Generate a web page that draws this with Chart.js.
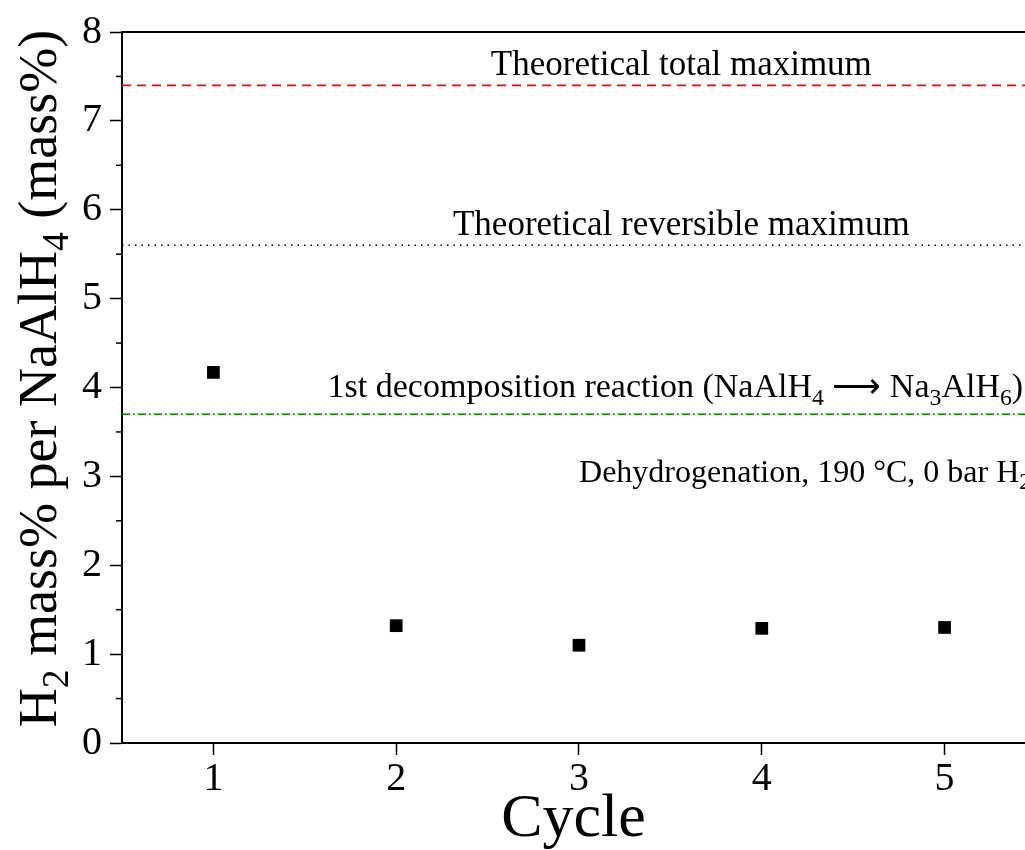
<!DOCTYPE html>
<html>
<head>
<meta charset="utf-8">
<script src="https://cdn.jsdelivr.net/npm/chart.js@4.4.0/dist/chart.umd.min.js"></script>
<style>
  html, body { margin: 0; padding: 0; background: #fff; }
  #wrap { width: 1025px; height: 850px; }
</style>
</head>
<body>
<div id="wrap"><canvas id="chart" width="1025" height="850"></canvas></div>
<script>
// data
const cycles = [1, 2, 3, 4, 5];
const capacity = [4.17, 1.32, 1.10, 1.29, 1.30];
const xTicks = [1, 2, 3, 4, 5];
const yTicks = [0, 1, 2, 3, 4, 5, 6, 7, 8];
const totalMax = 7.4;       // theoretical total maximum
const reversibleMax = 5.6;  // theoretical reversible maximum
const firstStep = 3.7;      // NaAlH4 -> Na3AlH6
const xMin = 0.5, xMax = 5.44;

const FONT = '"Liberation Serif", "Times New Roman", serif';

// draw a run of text with subscripts, returns width
function richWidth(ctx, parts, size) {
  let w = 0;
  parts.forEach(p => {
    ctx.font = (p.sub ? size * 0.7 : size) + 'px ' + FONT;
    w += ctx.measureText(p.t).width;
  });
  return w;
}
function drawRich(ctx, parts, x, y, size) {
  let cx = x;
  parts.forEach(p => {
    const s = p.sub ? size * 0.7 : size;
    ctx.font = s + 'px ' + FONT;
    ctx.fillText(p.t, cx, p.sub ? y + size * 0.22 : y);
    cx += ctx.measureText(p.t).width;
  });
}

const yTitle = [
  {t: 'H'}, {t: '2', sub: true}, {t: ' mass% per NaAlH'}, {t: '4', sub: true}, {t: ' (mass%)'}
];
const labels = [
  {parts: [{t: 'Theoretical total maximum'}], y: totalMax, size: 35, align: 'center', x: 3.56, dy: -10},
  {parts: [{t: 'Theoretical reversible maximum'}], y: reversibleMax, size: 35, align: 'center', x: 3.56, dy: -10},
  {parts: [{t: '1st decomposition reaction (NaAlH'}, {t: '4', sub: true}, {t: ' \u27F6 Na'}, {t: '3', sub: true},
           {t: 'AlH'}, {t: '6', sub: true}, {t: ')'}], y: firstStep, size: 34, align: 'right', x: xMax - 0.01, dy: -17},
  {parts: [{t: 'Dehydrogenation, 190 \u00b0C, 0 bar H'}, {t: '2', sub: true}], y: firstStep, size: 32, align: 'right', x: xMax + 0.03, dy: 68}
];

const extras = {
  id: 'extras',
  afterDraw(chart) {
    const ctx = chart.ctx;
    const area = chart.chartArea;
    const xs = chart.scales.x, ys = chart.scales.y;
    ctx.save();
    ctx.fillStyle = '#000';
    ctx.strokeStyle = '#000';
    // top frame line
    ctx.lineWidth = 2;
    ctx.beginPath();
    ctx.moveTo(area.left - 1, area.top);
    ctx.lineTo(area.right, area.top);
    ctx.stroke();
    // minor y ticks
    ctx.lineWidth = 1.5;
    for (let v = 0.5; v < 8; v += 1) {
      const py = ys.getPixelForValue(v);
      ctx.beginPath();
      ctx.moveTo(area.left - 6, py);
      ctx.lineTo(area.left, py);
      ctx.stroke();
    }
    // annotations
    ctx.textBaseline = 'alphabetic';
    ctx.textAlign = 'left';
    labels.forEach(l => {
      const w = richWidth(ctx, l.parts, l.size);
      const px = xs.getPixelForValue(l.x);
      const py = ys.getPixelForValue(l.y) + l.dy;
      const x0 = l.align === 'center' ? px - w / 2 : px - w;
      drawRich(ctx, l.parts, x0, py, l.size);
    });
    // y axis title, rotated, with subscripts
    const size = 54;
    const w = richWidth(ctx, yTitle, size);
    ctx.translate(56, (area.top + area.bottom) / 2 - 9);
    ctx.rotate(-Math.PI / 2);
    drawRich(ctx, yTitle, -w / 2, 0, size);
    ctx.restore();
  }
};

const refLine = (v, color, dash, width) => ({
  type: 'line',
  data: [{x: xMin, y: v}, {x: xMax, y: v}],
  borderColor: color,
  borderWidth: width,
  borderDash: dash,
  pointRadius: 0,
  fill: false
});

new Chart(document.getElementById('chart'), {
  type: 'scatter',
  data: {
    datasets: [
      refLine(totalMax, '#ff0000', [9, 6], 1.7),
      refLine(reversibleMax, '#000000', [1.5, 5], 1.5),
      refLine(firstStep, '#008000', [8, 3, 2, 3], 1.5),
      {
        type: 'scatter',
        data: cycles.map((c, i) => ({x: c, y: capacity[i]})),
        backgroundColor: '#000',
        borderColor: '#000',
        pointStyle: 'rect',
        pointRadius: 9,
        pointHoverRadius: 9,
        borderWidth: 0
      }
    ]
  },
  options: {
    responsive: false,
    animation: false,
    events: [],
    layout: { autoPadding: false, padding: { top: 29, right: 0, left: 0, bottom: 0 } },
    plugins: { legend: { display: false }, tooltip: { enabled: false } },
    scales: {
      x: {
        type: 'linear',
        min: xMin,
        max: xMax,
        afterBuildTicks: s => { s.ticks = xTicks.map(v => ({value: v})); },
        afterFit: s => { s.height = 107; },
        border: { color: '#000', width: 2 },
        grid: { display: true, drawOnChartArea: false, tickLength: 12, tickColor: '#000', tickWidth: 1.5 },
        ticks: { color: '#000', font: { family: FONT, size: 40 }, padding: 0, maxRotation: 0 },
        title: { display: true, text: 'Cycle', color: '#000', font: { family: FONT, size: 62 }, padding: { top: 0, bottom: -7 } }
      },
      y: {
        min: 0,
        max: 8,
        afterBuildTicks: s => { s.ticks = yTicks.map(v => ({value: v})); },
        afterFit: s => { s.width = 122; },
        border: { color: '#000', width: 2 },
        grid: { display: true, drawOnChartArea: false, tickLength: 12, tickColor: '#000', tickWidth: 1.5 },
        ticks: { color: '#000', font: { family: FONT, size: 40 }, padding: 8 }
      }
    }
  },
  plugins: [extras]
});
</script>
</body>
</html>
